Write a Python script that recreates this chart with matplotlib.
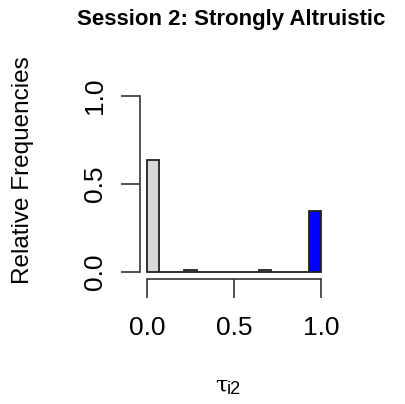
import matplotlib
matplotlib.use("Agg")
import matplotlib.pyplot as plt
import numpy as np

# histogram of tau_i2, 14 equal bins on [0, 1]
bin_edges = np.linspace(0.0, 1.0, 15)
rel_freq = [0.636, 0.0, 0.0, 0.01, 0.0, 0.0, 0.0, 0.0, 0.0, 0.01, 0.0, 0.0, 0.0, 0.347]
bar_colors = ["#d9d9d9"] * 13 + ["#0000ff"]
x_ticks = [0.0, 0.5, 1.0]
y_ticks = [0.0, 0.5, 1.0]
tick_labels = ["0.0", "0.5", "1.0"]

plt.rcParams["font.family"] = ["Liberation Sans", "DejaVu Sans"]
W, H = 405, 404
fig = plt.figure(figsize=(W / 100, H / 100), dpi=100)
ax = fig.add_axes([140 / W, 1 - 279 / H, (328 - 140) / W, (279 - 89) / H])

widths = np.diff(bin_edges)
ax.bar(bin_edges[:-1], rel_freq, width=widths, align="edge", color=bar_colors,
       edgecolor="#222222", linewidth=1.3)

ax.set_xlim(-0.04, 1.04)
ax.set_ylim(-0.04, 1.04)
for side in ("top", "right"):
  ax.spines[side].set_visible(False)
ax.spines["left"].set_bounds(0, 1)
ax.spines["bottom"].set_bounds(0, 1)
for side in ("left", "bottom"):
  ax.spines[side].set_color("#333333")
  ax.spines[side].set_linewidth(1.2)

ax.set_xticks(x_ticks)
ax.set_xticklabels(tick_labels, fontsize=19)
ax.set_yticks(y_ticks)
ax.set_yticklabels(tick_labels, fontsize=19, rotation=90, va="center")
ax.tick_params(axis="both", length=13.5, width=1.2, color="#333333")
ax.tick_params(axis="x", pad=13)
ax.tick_params(axis="y", pad=10)

fig.text(231 / W, 1 - 19 / H, "Session 2: Strongly Altruistic", ha="center",
         va="center", fontsize=16, fontweight="bold")
fig.text(23 / W, 1 - 170 / H, "Relative Frequencies", ha="center", va="center",
         rotation=90, fontsize=17.5)
# x label: tau with subscript i2
fig.text(227 / W, 1 - 392 / H, "τ", ha="right", va="baseline",
         fontsize=16, family="DejaVu Serif")
fig.text(227 / W, 1 - 394 / H, "i2", ha="left", va="baseline", fontsize=13)

fig.savefig("out.png", dpi=100)
